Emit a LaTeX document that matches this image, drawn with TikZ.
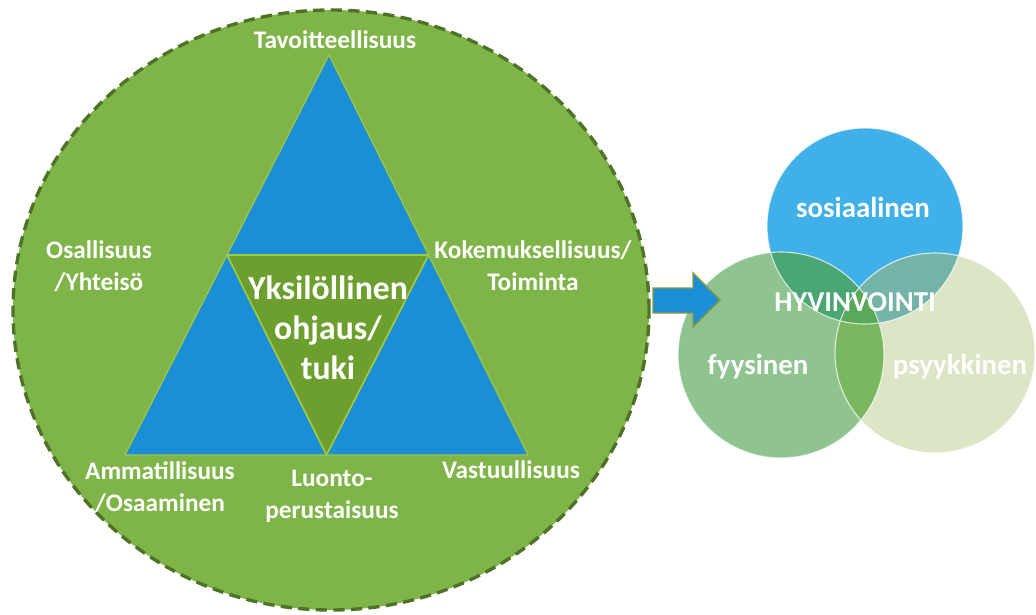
\documentclass[tikz,border=0pt]{standalone}
\usepackage{fontspec}
\setmainfont{Carlito}
\usetikzlibrary{calc}

\definecolor{ringgreen}{HTML}{7FB548}
\definecolor{ringedge}{HTML}{4F7326}
\definecolor{triblue}{HTML}{1A8FD6}
\definecolor{triedge}{HTML}{A6C840}
\definecolor{coregreen}{HTML}{6C9F2E}
\definecolor{arrowedge}{HTML}{8C9A3C}
\definecolor{sosblue}{HTML}{40B0E8}
\definecolor{fyygreen}{HTML}{8FC491}
\definecolor{psypale}{HTML}{DCE6C6}
\definecolor{sosfyy}{HTML}{4AA673}
\definecolor{sospsy}{HTML}{74B4A8}
\definecolor{fyypsy}{HTML}{7AB75E}
\definecolor{allthree}{HTML}{5AA85A}

\tikzset{
  ring/.style={fill=ringgreen,draw=ringedge,line width=2.4pt,dash pattern=on 8pt off 4.5pt},
  aspect/.style={text=white,align=center,font=\fontsize{18}{22.5}\selectfont\bfseries},
  coretext/.style={text=white,align=center,font=\fontsize{24}{28.5}\selectfont\bfseries},
  venntext/.style={text=white,font=\fontsize{20.5}{24}\selectfont\bfseries}
}

\begin{document}
\begin{tikzpicture}[x=0.025cm,y=0.025cm]
  \useasboundingbox (0,0) rectangle (1036,614);

  % green circle with the triangle
  \draw[ring] (331,304) ellipse (318 and 300);
  \coordinate (apex) at (329,559);
  \coordinate (bl) at (125,159);
  \coordinate (br) at (528,159);
  \draw[fill=triblue,draw=triedge,line width=0.8pt] (apex) -- (bl) -- (br) -- cycle;
  \draw[fill=coregreen,draw=triedge,line width=1.2pt]
    ($(apex)!.5!(bl)$) -- ($(apex)!.5!(br)$) -- ($(bl)!.5!(br)$) -- cycle;

  \node[aspect] (tavo) at (335,574) {Tavoitteellisuus};
  \node[aspect] (osal) at (99,348) {Osallisuus\\/Yhteisö};
  \node[aspect] (koke) at (533,348) {Kokemuksellisuus/\\Toiminta};
  \node[coretext] (core) at (328,286) {Yksilöllinen\\ohjaus/\\tuki};
  \node[aspect] (amma) at (160,127) {Ammatillisuus\\/Osaaminen};
  \node[aspect] (luon) at (332,118) {Luonto-\\perustaisuus};
  \node[aspect] (vast) at (511,144) {Vastuullisuus};

  % venn of wellbeing
  \coordinate (sos) at (865,388);
  \coordinate (fyy) at (781,259);
  \coordinate (psy) at (935,261);
  \fill[sosblue] (sos) circle (98);
  \fill[fyygreen] (fyy) circle (103);
  \fill[psypale] (psy) circle (100);
  \begin{scope}
    \clip (sos) circle (98);
    \fill[sosfyy] (fyy) circle (103);
    \fill[sospsy] (psy) circle (100);
  \end{scope}
  \begin{scope}
    \clip (fyy) circle (103);
    \fill[fyypsy] (psy) circle (100);
    \clip (sos) circle (98);
    \fill[allthree] (psy) circle (100);
  \end{scope}
  \draw[white,opacity=0.7,line width=0.8pt] (sos) circle (98) (fyy) circle (103) (psy) circle (100);

  \node[venntext] (sosi) at (863,407) {sosiaalinen};
  \node[venntext] (hyvi) at (855,312) {HYVINVOINTI};
  \node[venntext] (fyys) at (758,247) {fyysinen};
  \node[venntext] (psyk) at (960,247) {psyykkinen};

  % block arrow
  \draw[fill=triblue,draw=arrowedge,line width=1pt,line join=miter]
    (653,326) -- (693,326) -- (693,341) -- (720,314) -- (693,287)
    -- (693,301) -- (653,301) -- cycle;
\end{tikzpicture}
\end{document}
